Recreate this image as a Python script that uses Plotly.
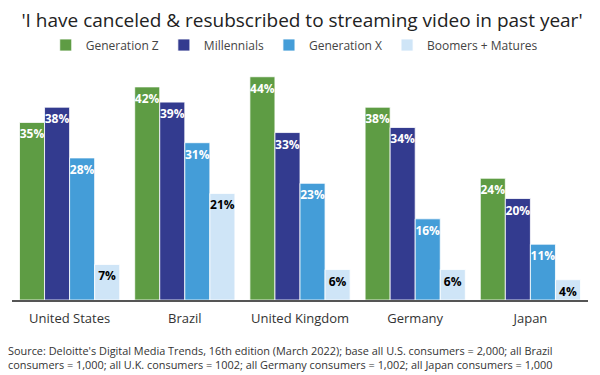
import plotly.graph_objects as go

countries = ["United States", "Brazil", "United Kingdom", "Germany", "Japan"]
series_names = ["Generation Z", "Millennials", "Generation X", "Boomers + Matures"]
gen_z = [35, 42, 44, 38, 24]
millennials = [38, 39, 33, 34, 20]
gen_x = [28, 31, 23, 16, 11]
boomers = [7, 21, 6, 6, 4]

colors = ["#5e9c44", "#333b8f", "#449dd8", "#cfe5f7"]
text_colors = ["white", "white", "white", "black"]

fig = go.Figure()
for name, vals, c, tc in zip(series_names, [gen_z, millennials, gen_x, boomers], colors, text_colors):
    fig.add_trace(go.Bar(
        x=countries, y=vals, name=name,
        marker=dict(color=c, line=dict(color="rgba(255,255,255,0.8)", width=1)),
        text=[f"{v}%" for v in vals],
        textposition="inside", insidetextanchor="end", textangle=0,
        textfont=dict(family="Open Sans", size=12, color=tc, weight="bold"),
        cliponaxis=False,
    ))

# the page body has an 8px margin, so the layout is shifted up/left by 8px
fig.update_layout(
    width=600, height=375,
    barmode="group", bargap=0.13, bargroupgap=0.0,
    margin=dict(l=4, r=20, t=52, b=83, autoexpand=False),
    paper_bgcolor="white", plot_bgcolor="white",
    font=dict(family="Open Sans", color="#333333"),
    title=dict(text="'I have canceled & resubscribed to streaming video in past year'",
               x=0.49, xanchor="center", y=1 - 12 / 375, yanchor="middle",
               font=dict(family="Open Sans", size=19, color="#222222")),
    legend=dict(orientation="h", x=0.49, xanchor="center", y=1.0625, yanchor="middle",
                font=dict(size=12, color="#444444"), itemwidth=30, tracegroupgap=0),
    uniformtext=dict(minsize=12, mode="show"),
    xaxis=dict(showline=True, linecolor="#555555", linewidth=2, ticks="", automargin=False,
               ticklabelstandoff=5, tickfont=dict(size=13, color="#333333")),
    yaxis=dict(range=[0, 47.3], visible=False, showgrid=False, automargin=False),
    annotations=[dict(
        text="Source: Deloitte's Digital Media Trends, 16th edition (March 2022); base all U.S. consumers = 2,000; all Brazil<br>consumers = 1,000; all U.K. consumers = 1002; all Germany consumers = 1,002; all Japan consumers = 1,000",
        xref="paper", yref="paper", x=-0.01, y=-0.171, xanchor="left", yanchor="top",
        align="left", showarrow=False, font=dict(size=10.9, color="#333333"))],
)

fig.write_html("out.html")
